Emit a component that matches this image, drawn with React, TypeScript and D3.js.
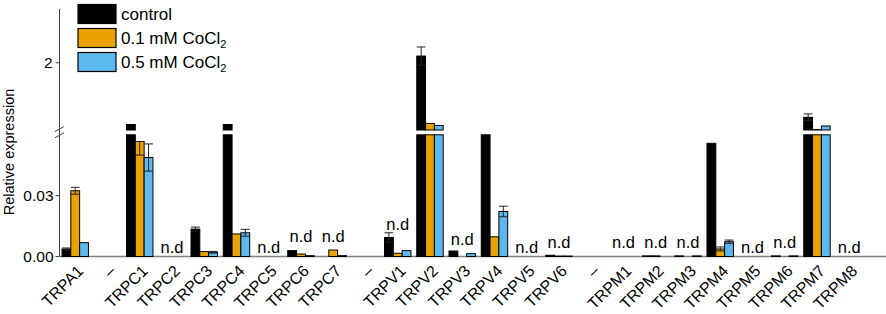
import React from "react";
import * as d3 from "d3";

const categories = ["TRPA1","–","TRPC1","TRPC2","TRPC3","TRPC4","TRPC5","TRPC6","TRPC7","–","TRPV1","TRPV2","TRPV3","TRPV4","TRPV5","TRPV6","–","TRPM1","TRPM2","TRPM3","TRPM4","TRPM5","TRPM6","TRPM7","TRPM8"];

const control = [0.0037, 0, 1.082, 0, 0.0135, 1.082, 0, 0.0029, 0, 0, 0.0094, 2.10, 0.0027, 0.06, 0, 0.0006, 0, 0, 0.0003, 0.0003, 0.0558, 0, 0.0003, 1.189, 0];
const controlErr = [0.0005, 0, 0, 0, 0.001, 0, 0, 0, 0, 0, 0.0023, 0.135, 0, 0, 0, 0, 0, 0, 0, 0, 0, 0, 0, 0.05, 0];
const cocl01 = [0.0324, 0, 0.0567, 0, 0.0024, 0.0111, 0, 0.0012, 0.0032, 0, 0.0016, 1.097, 0, 0.0097, 0, 0.0002, 0, 0, 0.0003, 0, 0.0037, 0, 0, 1.007, 0];
const cocl01Err = [0.0017, 0, 0.0067, 0, 0, 0, 0, 0, 0, 0, 0, 0, 0, 0, 0, 0, 0, 0, 0, 0, 0.001, 0, 0, 0, 0];
const cocl05 = [0.0068, 0, 0.0488, 0, 0.0021, 0.0117, 0, 0.0004, 0.0004, 0, 0.0029, 1.067, 0.0014, 0.0222, 0, 0.0002, 0, 0, 0, 0.0003, 0.0073, 0, 0.0003, 1.06, 0];
const cocl05Err = [0, 0, 0.0067, 0, 0.0004, 0.0017, 0, 0, 0, 0, 0, 0, 0, 0.0026, 0, 0, 0, 0, 0, 0, 0.0008, 0, 0, 0, 0];

const seriesNames = ["control", "0.1 mM CoCl", "0.5 mM CoCl"];
const seriesSub = ["", "2", "2"];
const seriesColors = ["#000000", "#E9A200", "#5CB9F0"];
const seriesValues = [control, cocl01, cocl05];
const seriesErrors = [controlErr, cocl01Err, cocl05Err];

const lowerTicks = [0, 0.03];
const upperTicks = [2];
const lowerDomain = [0, 0.06];
const upperDomain = [1, 2.8];

const ndLabels: [string, number][] = [
  ["TRPC2", 0.0017], ["TRPC5", 0.0017], ["TRPC6", 0.0071], ["TRPC7", 0.0071],
  ["TRPV1", 0.013], ["TRPV3", 0.0057], ["TRPV5", 0.0017], ["TRPV6", 0.0042],
  ["TRPM1", 0.0042], ["TRPM2", 0.0042], ["TRPM3", 0.0042], ["TRPM5", 0.0017],
  ["TRPM6", 0.0042], ["TRPM8", 0.0017],
];

const FONT = "'Liberation Sans', Arial, sans-serif";

export default function App() {
  const W = 886, H = 314;
  const axisX = 59.5;
  const x = d3.scaleBand<number>()
    .domain(categories.map((_, i) => i))
    .range([59.1, 865.35])
    .paddingInner(0.18)
    .paddingOuter(0.09);
  const xs = d3.scaleBand<number>()
    .domain([0, 1, 2])
    .range([0, x.bandwidth()]);
  const yLow = d3.scaleLinear().domain(lowerDomain).range([256.5, 134.8]);
  const yUp = d3.scaleLinear().domain(upperDomain).range([130, 9]);
  const lowMax = lowerDomain[1];
  const upMin = upperDomain[0];

  const bars: React.ReactNode[] = [];
  const errs: React.ReactNode[] = [];
  seriesValues.forEach((vals, s) => {
    vals.forEach((v, i) => {
      if (v <= 0) return;
      const bx = (x(i) as number) + (xs(s) as number);
      const bw = xs.bandwidth();
      const lowTop = yLow(Math.min(v, lowMax));
      bars.push(
        <rect key={`l${s}-${i}`} x={bx} y={lowTop} width={bw} height={yLow(0) - lowTop}
          fill={seriesColors[s]} stroke="#000" strokeWidth={1} />
      );
      if (v > upMin) {
        const t = yUp(v);
        bars.push(
          <rect key={`u${s}-${i}`} x={bx} y={t} width={bw} height={yUp(upMin) - t}
            fill={seriesColors[s]} stroke="#000" strokeWidth={1} />
        );
      }
      const e = seriesErrors[s][i];
      if (e > 0) {
        const cx = bx + bw / 2;
        let y1: number, y2: number;
        if (v > upMin) {
          y1 = yUp(Math.max(v - e, upMin));
          y2 = yUp(v + e);
        } else {
          y1 = yLow(Math.max(v - e, 0));
          y2 = yLow(v + e <= lowMax ? v + e : v);
        }
        errs.push(
          <g key={`e${s}-${i}`} stroke="#222" strokeWidth={1}>
            <line x1={cx} x2={cx} y1={y1} y2={y2} />
            <line x1={cx - bw / 2} x2={cx + bw / 2} y1={y2} y2={y2} />
            <line x1={cx - bw / 2} x2={cx + bw / 2} y1={y1} y2={y1} />
          </g>
        );
      }
    });
  });

  const centerOf = (name: string) => (x(categories.indexOf(name)) as number) + x.bandwidth() / 2;

  return (
    <svg width={W} height={H} style={{ position: "absolute", left: 0, top: 0, background: "#fff" }}
      fontFamily={FONT}>
      <rect x={0} y={0} width={W} height={H} fill="#fff" />
      <line x1={axisX} x2={W} y1={yLow(0)} y2={yLow(0)} stroke="#808080" strokeWidth={1.5} />
      {bars}
      {errs}
      <line x1={axisX} x2={axisX} y1={yUp(upperDomain[1])} y2={yLow(0)} stroke="#444" strokeWidth={1} />
      {[yUp(upMin) - 1, yLow(lowMax) + 0.5].map((yy, k) => (
        <line key={`br${k}`} x1={axisX - 4.5} x2={axisX + 4.5} y1={yy + 2.5} y2={yy - 2.5} stroke="#444" strokeWidth={1} />
      ))}
      {lowerTicks.map((t) => (
        <g key={`lt${t}`}>
          <line x1={axisX - 4} x2={axisX} y1={yLow(t)} y2={yLow(t)} stroke="#444" />
          <text x={axisX - 6} y={yLow(t)} dy="0.36em" textAnchor="end" fontSize={15.5} fill="#000">
            {d3.format(".2f")(t)}
          </text>
        </g>
      ))}
      {upperTicks.map((t) => (
        <g key={`ut${t}`}>
          <line x1={axisX - 4} x2={axisX} y1={yUp(t)} y2={yUp(t)} stroke="#444" />
          <text x={axisX - 7} y={yUp(t)} dy="0.36em" textAnchor="end" fontSize={15.5} fill="#000">
            {String(t)}
          </text>
        </g>
      ))}
      <text transform={`translate(14,152) rotate(-90)`} textAnchor="middle" fontSize={14.5} fill="#000">
        Relative expression
      </text>
      {ndLabels.map(([name, lvl]) => (
        <text key={`nd${name}`} x={centerOf(name)} y={yLow(lvl)} textAnchor="middle" fontSize={16.5} fill="#000">
          n.d
        </text>
      ))}
      {categories.map((c, i) => {
        const cx = (x(i) as number) + x.bandwidth() / 2;
        return (
          <text key={`c${i}`} transform={`translate(${cx + 9},272) rotate(-45)`} textAnchor="end"
            fontSize={16} fill="#000">
            {c}
          </text>
        );
      })}
      {seriesNames.map((n, s) => (
        <g key={`lg${s}`} transform={`translate(78,${4.5 + s * 24})`}>
          <rect x={0} y={0} width={38} height={19} fill={seriesColors[s]} stroke="#000" strokeWidth={1.2} />
          <text x={43} y={15.5} fontSize={17} fill="#000">
            {n}
            {seriesSub[s] && <tspan fontSize={11} dy={4}>{seriesSub[s]}</tspan>}
          </text>
        </g>
      ))}
    </svg>
  );
}
